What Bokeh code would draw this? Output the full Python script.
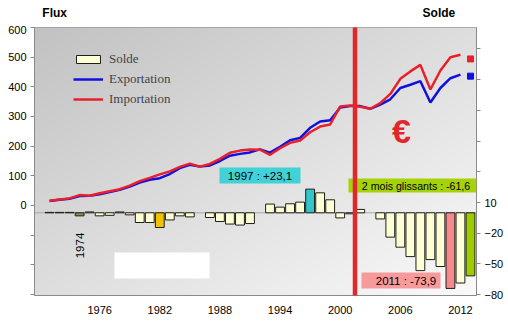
import numpy as np
from bokeh.plotting import figure
from bokeh.layouts import column
from bokeh.models import (ColumnDataSource, LinearAxis, Range1d, FixedTicker, Span, Label,
                          BoxAnnotation, Arrow, Legend, LegendItem)
from bokeh.embed import file_html
from bokeh.resources import INLINE

# ---------------- data ----------------
years_flux = list(range(1971, 2013))
exportation = [15, 19, 23, 32, 33, 38, 45, 53, 64, 77, 87, 92, 106, 126, 137, 131, 135, 150,
               168, 174, 179, 189, 178, 198, 220, 228, 262, 283, 287, 330, 335, 335, 326, 340,
               358, 396, 407, 419, 347, 396, 429, 441]
importation = [16, 20, 24, 35, 33, 41, 48, 55, 67, 82, 93, 105, 115, 130, 141, 131, 140, 157,
               178, 185, 189, 188, 171, 193, 211, 219, 247, 266, 273, 334, 337, 333, 326, 345,
               376, 427, 452, 474, 391, 455, 500, 508]
year_last = [2013]
exportation_last = [436]
importation_last = [494]

years_solde = list(range(1971, 2014))
solde = [0.4, 0.4, 0.4, -3.0, 0.8, -3.0, -2.5, 0.8, -2.0, -9.5, -9.5, -14.4, -7.0, -3.0, -4.0,
         float("nan"), -4.6, -8.5, -11.0, -12.0, -10.5, float("nan"), 8.5, 5.5, 8.8, 10.4, 23.1,
         19.5, 12.7, -5.0, -1.0, 3.3, float("nan"), -6.0, -23.8, -33.6, -42.8, -56.5, -45.7,
         -52.5, -73.9, -68.6, -61.6]
highlight_years = [1974, 1982, 1997, 2011, 2013]

x_ticks = [1976, 1982, 1988, 1994, 2000, 2006, 2012]
flux_ticks = [-300, -200, -100, 0, 100, 200, 300, 400, 500, 600]
solde_ticks = [-80, -50, -20, 10, 40, 70, 100, 130, 160]
solde_labeled = [-80, -50, -20, 10]

# ---------------- layout helpers ----------------
W, H = 508, 330
HEAD = 25                      # header strip holding the axis titles
L, R, T, B = 34, 476, 27, 295  # frame in page pixels
XR = (1969.5, 2013.6)
YF = (-303.4, 600.0)
YS = (-80.8, 181.0)


def dx(px):
    return XR[0] + (px - L) / (R - L) * (XR[1] - XR[0])


def dyf(py):
    return YF[1] - (py - T) / (B - T) * (YF[1] - YF[0])


highlight_colors = {1974: "#8e8e44", 1982: "#f2c200", 1997: "#33c4cc", 2011: "#f48a8c", 2013: "#9dcb00"}
bar_colors = [highlight_colors.get(y, "#ffffd6") for y in years_solde]

# ---------------- header (axis titles) ----------------
head = figure(width=W, height=HEAD, x_range=Range1d(0, W), y_range=Range1d(HEAD, 0),
              output_backend="svg", toolbar_location=None, x_axis_type=None, y_axis_type=None,
              min_border=0, outline_line_color=None, background_fill_color="white",
              border_fill_color="white")
head.xgrid.visible = False
head.ygrid.visible = False
for hx, htxt in [(9, "Flux"), (446, "Solde")]:
    head.add_layout(Label(x=hx, y=12.5, text=htxt, text_font="Liberation Sans",
                          text_font_size="12px", text_font_style="bold", text_align="left",
                          text_baseline="middle", text_color="black"))

# ---------------- main chart ----------------
p = figure(width=W, height=H - HEAD, x_range=Range1d(*XR), y_range=Range1d(*YF),
           output_backend="svg", toolbar_location=None,
           min_border_left=L, min_border_right=W - R, min_border_top=T - HEAD,
           min_border_bottom=H - B,
           border_fill_color="white", outline_line_color="#9a9a9a")
p.xgrid.visible = False
p.ygrid.visible = False
p.extra_y_ranges = {"solde": Range1d(*YS)}

# gradient background
ny, nx = 134, 221
u = np.linspace(0, 1, nx)[None, :]
v = np.linspace(0, 1, ny)[:, None]  # 0 bottom -> 1 top
t = (u + (1 - v)) / 2.0
g = (194 + 56 * t).astype(np.uint8)
img = np.empty((ny, nx), dtype=np.uint32)
view = img.view(dtype=np.uint8).reshape((ny, nx, 4))
view[..., 0] = g
view[..., 1] = g
view[..., 2] = g
view[..., 3] = 255
p.image_rgba(image=[img], x=XR[0], y=YF[0], dw=XR[1] - XR[0], dh=YF[1] - YF[0], level="image")

# white box
p.add_layout(BoxAnnotation(left=dx(114), right=dx(209), top=dyf(252), bottom=dyf(278),
                           fill_color="white", fill_alpha=1, line_alpha=0, level="underlay"))

# zero line of solde
p.add_layout(Span(location=0, dimension="width", y_range_name="solde",
                  line_color="#a8a8a8", line_width=1, level="underlay"))

# bars
src_s = ColumnDataSource(dict(year=years_solde, solde=solde, color=bar_colors))
bars = p.vbar(x="year", top="solde", bottom=0, width=0.88, source=src_s, y_range_name="solde",
              fill_color="color", line_color="#1e1e1e", line_width=1)

# lines
src_f = ColumnDataSource(dict(year=years_flux, exp=exportation, imp=importation))
l_exp = p.line(x="year", y="exp", source=src_f, line_color="#1010e0", line_width=2.5)
l_imp = p.line(x="year", y="imp", source=src_f, line_color="#e8202a", line_width=2.5)
src_last = ColumnDataSource(dict(year=year_last, exp=exportation_last, imp=importation_last))
p.scatter(x="year", y="exp", source=src_last, marker="square", size=6, color="#1010e0")
p.scatter(x="year", y="imp", source=src_last, marker="square", size=6, color="#e8202a")

# axes
p.xaxis.ticker = FixedTicker(ticks=x_ticks)
p.xaxis.major_tick_out = 0
p.xaxis.major_tick_in = 0
p.xaxis.minor_tick_out = 0
p.xaxis.minor_tick_in = 0
p.xaxis.major_label_standoff = 10
p.xaxis.axis_line_color = "#8a8a8a"
p.xaxis.major_label_text_font = "Liberation Sans"
p.xaxis.major_label_text_font_size = "11px"
p.xaxis.major_label_text_color = "black"

p.yaxis.ticker = FixedTicker(ticks=flux_ticks)
p.yaxis.major_label_overrides = {tk: "" for tk in flux_ticks if tk < 0}
p.yaxis.major_tick_out = 4
p.yaxis.major_tick_in = 0
p.yaxis.minor_tick_out = 0
p.yaxis.minor_tick_in = 0
p.yaxis.major_label_standoff = 4
p.yaxis.axis_line_color = "#8a8a8a"
p.yaxis.major_tick_line_color = "#8a8a8a"
p.yaxis.major_label_text_font = "Liberation Sans"
p.yaxis.major_label_text_font_size = "11px"
p.yaxis.major_label_text_color = "black"

ax_r = LinearAxis(y_range_name="solde", ticker=FixedTicker(ticks=solde_ticks),
                  major_label_overrides={tk: "" for tk in solde_ticks if tk not in solde_labeled},
                  major_tick_out=4, major_tick_in=0, minor_tick_out=0, minor_tick_in=0,
                  major_label_standoff=4, axis_line_color="#8a8a8a",
                  major_tick_line_color="#8a8a8a", major_label_text_font="Liberation Sans",
                  major_label_text_font_size="11px", major_label_text_color="black")
p.add_layout(ax_r, "right")

# legend
legend = Legend(items=[LegendItem(label="Solde", renderers=[bars]),
                       LegendItem(label="Exportation", renderers=[l_exp]),
                       LegendItem(label="Importation", renderers=[l_imp])],
                location=(73 - L, B - 107), glyph_width=30, glyph_height=10,
                label_height=10, spacing=4, padding=0, margin=0, label_standoff=6,
                label_text_font="Liberation Serif", label_text_font_size="13px",
                label_text_baseline="middle", border_line_alpha=0, background_fill_alpha=0)
p.add_layout(legend)

# annotation boxes
p.add_layout(BoxAnnotation(left=dx(219), right=dx(300), top=dyf(167), bottom=dyf(183),
                           fill_color="#40d2d6", fill_alpha=1, line_alpha=0))
p.add_layout(BoxAnnotation(left=dx(348), right=dx(476), top=dyf(178), bottom=dyf(192),
                           fill_color="#a6d20a", fill_alpha=1, line_alpha=0))
p.add_layout(BoxAnnotation(left=dx(361), right=dx(440), top=dyf(272), bottom=dyf(288),
                           fill_color="#f79a9b", fill_alpha=1, line_alpha=0))


def label(px, py, text, size="11.5px", color="black", style="normal", align="center", angle=0,
          font="Liberation Sans"):
    p.add_layout(Label(x=dx(px), y=dyf(py), text=text, text_font=font, text_font_size=size,
                       text_color=color, text_font_style=style, text_align=align,
                       text_baseline="middle", angle=angle, angle_units="deg"))


label(259.5, 175.5, "1997 : +23,1")
label(415.5, 185.5, "2 mois glissants : -61,6", size="10.6px")
label(405.5, 280.5, "2011 : -73,9")
label(79, 245, "1974", angle=90)
label(401, 130, "€", size="34px", color="#e3262a", style="bold")

# euro vertical line
p.add_layout(Arrow(x_start=dx(354.5), x_end=dx(354.5), y_start=dyf(25), y_end=dyf(310),
                   start=None, end=None, line_color="#e3262a", line_width=4.5))

layout = column(head, p, spacing=0)
open("out.html", "w").write(file_html(layout, INLINE))
